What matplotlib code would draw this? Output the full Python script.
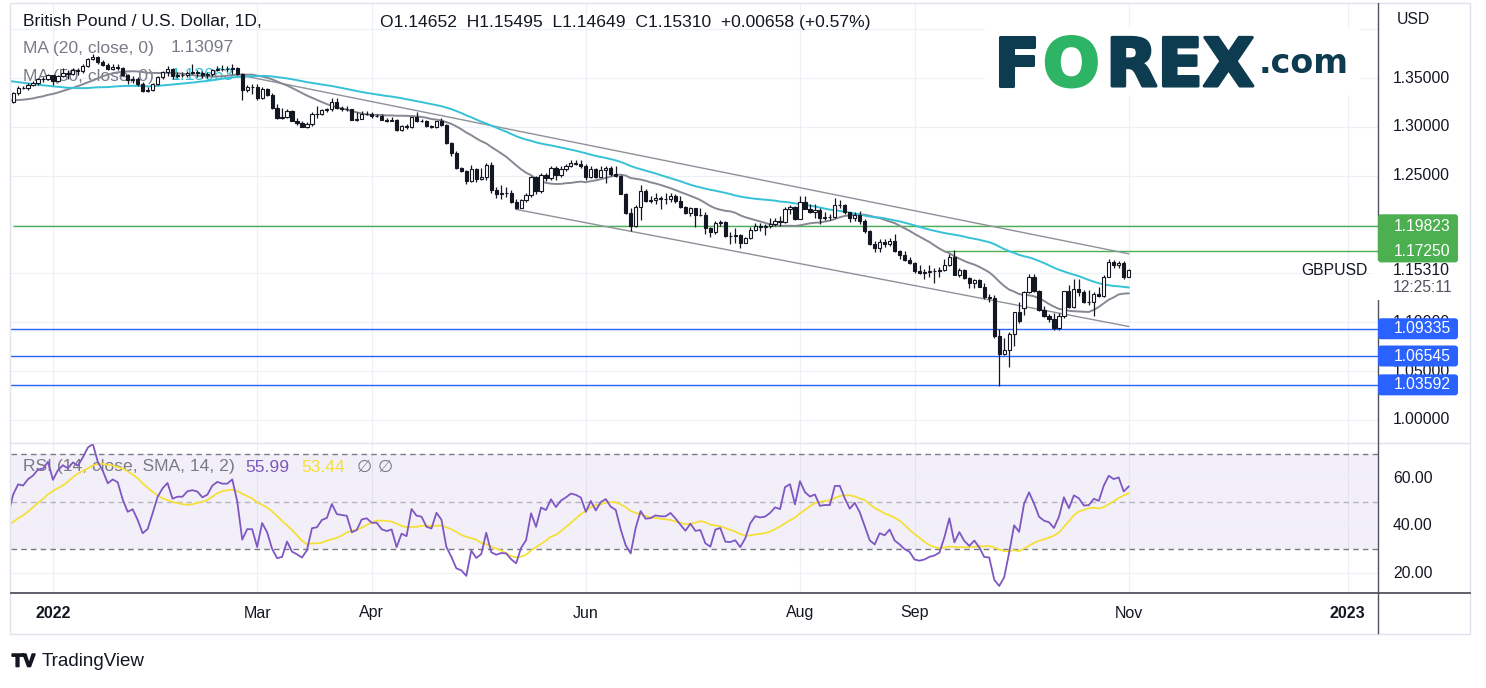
import numpy as np
import pandas as pd
import matplotlib
matplotlib.use("Agg")
import matplotlib.pyplot as plt
import matplotlib.transforms as mtrans
import matplotlib.patheffects as pe
from matplotlib.patches import FancyBboxPatch, Rectangle
from matplotlib.lines import Line2D

plt.rcParams['font.family'] = ['Liberation Sans', 'DejaVu Sans']

# ---------------- data ----------------
origin_date = '2022-01-03'
first_date = '2021-12-22'
last_date = '2022-11-01'
warmup_start = '2021-10-01'
warmup_end = '2021-12-21'

warmup_close = [
    1.3540, 1.3610, 1.3615, 1.3590, 1.3610, 1.3615, 1.3595, 1.3620, 1.3675, 1.3710,
    1.3745, 1.3735, 1.3815, 1.3810, 1.3795, 1.3760, 1.3770, 1.3760, 1.3745, 1.3835,
    1.3680, 1.3675, 1.3610, 1.3660, 1.3495, 1.3500, 1.3550, 1.3555, 1.3395, 1.3415,
    1.3410, 1.3425, 1.3425, 1.3490, 1.3510, 1.3445, 1.3395, 1.3350, 1.3325, 1.3330,
    1.3335, 1.3310, 1.3300, 1.3250, 1.3300, 1.3235, 1.3275, 1.3245, 1.3215, 1.3225,
    1.3270, 1.3235, 1.3240, 1.3290, 1.3325, 1.3235, 1.3215, 1.3255]

opens = [
    # Dec
    1.3255, 1.3345, 1.3400, 1.3395, 1.3430, 1.3450, 1.3485, 1.3490,
    # Jan
    1.3530, 1.3470, 1.3525, 1.3555, 1.3545, 1.3580, 1.3570, 1.3620, 1.3690, 1.3720,
    1.3665, 1.3635, 1.3590, 1.3610, 1.3600, 1.3535, 1.3480, 1.3490, 1.3440, 1.3365, 1.3380,
    # Feb
    1.3440, 1.3515, 1.3560, 1.3590, 1.3520, 1.3530, 1.3530, 1.3555, 1.3560, 1.3555,
    1.3535, 1.3545, 1.3580, 1.3595, 1.3590, 1.3590, 1.3605, 1.3545, 1.3375, 1.3410,
    # Mar
    1.3410, 1.3300, 1.3390, 1.3330, 1.3195, 1.3095, 1.3100, 1.3165, 1.3065, 1.3035,
    1.3000, 1.3030, 1.3130, 1.3135, 1.3170, 1.3180, 1.3250, 1.3190, 1.3185, 1.3180,
    1.3075, 1.3085, 1.3130,
    # Apr
    1.3135, 1.3110, 1.3110, 1.3075, 1.3065, 1.3070, 1.2965, 1.3010, 1.2995, 1.3100,
    1.3065, 1.3060, 1.3005, 1.2995, 1.3055, 1.3020, 1.2830, 1.2730, 1.2575, 1.2545, 1.2450,
    # May
    1.2570, 1.2470, 1.2490, 1.2610, 1.2355, 1.2315, 1.2325, 1.2320, 1.2235, 1.2170,
    1.2255, 1.2300, 1.2485, 1.2340, 1.2505, 1.2480, 1.2580, 1.2505, 1.2565, 1.2595,
    1.2630, 1.2620,
    # Jun
    1.2600, 1.2485, 1.2570, 1.2490, 1.2555, 1.2580, 1.2520, 1.2495, 1.2315, 1.2115,
    1.1985, 1.2180, 1.2340, 1.2245, 1.2250, 1.2275, 1.2265, 1.2265, 1.2290, 1.2240,
    1.2180, 1.2120,
    # Jul
    1.2165, 1.2095, 1.2100, 1.1960, 1.1920, 1.2020, 1.2030, 1.1885, 1.1880, 1.1890,
    1.1815, 1.1860, 1.1945, 1.1990, 1.1980, 1.1985, 1.2005, 1.2035, 1.2025, 1.2155, 1.2175,
    # Aug
    1.2060, 1.2230, 1.2160, 1.2130, 1.2145, 1.2070, 1.2075, 1.2075, 1.2200, 1.2200,
    1.2130, 1.2065, 1.2100, 1.2040, 1.1935, 1.1805, 1.1760, 1.1820, 1.1800, 1.1830,
    1.1730, 1.1690, 1.1640,
    # Sep
    1.1610, 1.1520, 1.1505, 1.1510, 1.1520, 1.1525, 1.1535, 1.1590, 1.1670, 1.1485,
    1.1535, 1.1455, 1.1405, 1.1430, 1.1365, 1.1255, 1.1250, 1.0860, 1.0670, 1.0720,
    1.0880, 1.1105,
    # Oct
    1.1150, 1.1310, 1.1465, 1.1320, 1.1125, 1.1060, 1.1035, 1.0945, 1.1065, 1.1315,
    1.1160, 1.1345, 1.1305, 1.1205, 1.1210, 1.1290, 1.1265, 1.1465, 1.1620, 1.1585, 1.1610,
    # Nov
    1.14652]

highs = [
    1.3360, 1.3420, 1.3415, 1.3445, 1.3465, 1.3500, 1.3510, 1.3545,
    1.3535, 1.3535, 1.3600, 1.3580, 1.3600, 1.3605, 1.3640, 1.3700, 1.3750, 1.3730,
    1.3680, 1.3655, 1.3640, 1.3640, 1.3610, 1.3545, 1.3520, 1.3510, 1.3460, 1.3405, 1.3450,
    1.3525, 1.3570, 1.3625, 1.3600, 1.3560, 1.3560, 1.3575, 1.3645, 1.3585, 1.3575,
    1.3560, 1.3590, 1.3625, 1.3630, 1.3625, 1.3645, 1.3615, 1.3550, 1.3430, 1.3440,
    1.3435, 1.3410, 1.3400, 1.3345, 1.3235, 1.3190, 1.3185, 1.3175, 1.3095, 1.3055,
    1.3045, 1.3150, 1.3215, 1.3185, 1.3195, 1.3295, 1.3300, 1.3215, 1.3215, 1.3185,
    1.3155, 1.3160, 1.3165,
    1.3150, 1.3130, 1.3135, 1.3090, 1.3100, 1.3080, 1.3015, 1.3030, 1.3105, 1.3150,
    1.3085, 1.3070, 1.3020, 1.3065, 1.3090, 1.3030, 1.2845, 1.2750, 1.2590, 1.2560, 1.2610,
    1.2580, 1.2580, 1.2635, 1.2640, 1.2380, 1.2405, 1.2380, 1.2355, 1.2265, 1.2265,
    1.2325, 1.2500, 1.2500, 1.2525, 1.2525, 1.2600, 1.2600, 1.2595, 1.2620, 1.2665,
    1.2665, 1.2665,
    1.2615, 1.2600, 1.2580, 1.2600, 1.2600, 1.2600, 1.2595, 1.2505, 1.2320, 1.2170,
    1.2205, 1.2405, 1.2360, 1.2290, 1.2320, 1.2290, 1.2325, 1.2325, 1.2310, 1.2290,
    1.2195, 1.2180,
    1.2170, 1.2165, 1.2125, 1.1975, 1.2040, 1.2050, 1.2035, 1.1925, 1.1960, 1.1900,
    1.1875, 1.1975, 1.2015, 1.2015, 1.2005, 1.2065, 1.2065, 1.2085, 1.2180, 1.2200, 1.2190,
    1.2295, 1.2295, 1.2215, 1.2210, 1.2165, 1.2130, 1.2105, 1.2275, 1.2250, 1.2210,
    1.2130, 1.2125, 1.2140, 1.2060, 1.1945, 1.1835, 1.1850, 1.1855, 1.1860, 1.1900,
    1.1740, 1.1730, 1.1670,
    1.1615, 1.1590, 1.1550, 1.1590, 1.1555, 1.1565, 1.1650, 1.1700, 1.1740, 1.1560,
    1.1545, 1.1465, 1.1440, 1.1445, 1.1405, 1.1285, 1.1275, 1.0930, 1.0840, 1.0900,
    1.1110, 1.1210,
    1.1325, 1.1495, 1.1495, 1.1330, 1.1170, 1.1080, 1.1095, 1.1090, 1.1325, 1.1380,
    1.1440, 1.1440, 1.1335, 1.1335, 1.1305, 1.1365, 1.1485, 1.1645, 1.1640, 1.1630, 1.1625,
    1.15495]

lows = [
    1.3245, 1.3330, 1.3385, 1.3380, 1.3420, 1.3430, 1.3460, 1.3480,
    1.3430, 1.3460, 1.3510, 1.3490, 1.3530, 1.3530, 1.3555, 1.3615, 1.3680, 1.3640,
    1.3620, 1.3580, 1.3580, 1.3585, 1.3520, 1.3435, 1.3445, 1.3420, 1.3360, 1.3355, 1.3370,
    1.3430, 1.3490, 1.3525, 1.3485, 1.3505, 1.3510, 1.3515, 1.3545, 1.3515, 1.3500,
    1.3500, 1.3525, 1.3570, 1.3570, 1.3560, 1.3545, 1.3530, 1.3275, 1.3355, 1.3335,
    1.3275, 1.3290, 1.3320, 1.3185, 1.3085, 1.3085, 1.3095, 1.3055, 1.3020, 1.2995,
    1.2985, 1.3010, 1.3090, 1.3125, 1.3150, 1.3165, 1.3185, 1.3165, 1.3160, 1.3070,
    1.3060, 1.3080, 1.3120,
    1.3095, 1.3100, 1.3070, 1.3050, 1.3055, 1.2960, 1.2960, 1.2975, 1.2985, 1.3045,
    1.3045, 1.3000, 1.2990, 1.2990, 1.3010, 1.2825, 1.2705, 1.2570, 1.2540, 1.2410, 1.2440,
    1.2440, 1.2460, 1.2455, 1.2325, 1.2275, 1.2265, 1.2285, 1.2225, 1.2155, 1.2165,
    1.2230, 1.2285, 1.2315, 1.2325, 1.2445, 1.2460, 1.2460, 1.2485, 1.2550, 1.2585,
    1.2605, 1.2580,
    1.2460, 1.2475, 1.2475, 1.2485, 1.2430, 1.2500, 1.2485, 1.2310, 1.2105, 1.1935,
    1.1980, 1.2045, 1.2230, 1.2220, 1.2210, 1.2160, 1.2215, 1.2230, 1.2225, 1.2165,
    1.2105, 1.2090,
    1.1975, 1.2090, 1.1900, 1.1875, 1.1905, 1.1990, 1.1875, 1.1805, 1.1815, 1.1760,
    1.1810, 1.1855, 1.1930, 1.1930, 1.1890, 1.1965, 1.1990, 1.1990, 1.2015, 1.2110, 1.2045,
    1.2055, 1.2155, 1.2120, 1.2065, 1.2005, 1.2045, 1.2045, 1.2070, 1.2170, 1.2110,
    1.2030, 1.2040, 1.2010, 1.1915, 1.1795, 1.1720, 1.1715, 1.1775, 1.1780, 1.1720,
    1.1650, 1.1630, 1.1600,
    1.1500, 1.1495, 1.1445, 1.1460, 1.1405, 1.1460, 1.1525, 1.1575, 1.1480, 1.1465,
    1.1445, 1.1350, 1.1355, 1.1360, 1.1240, 1.1210, 1.0840, 1.0350, 1.0660, 1.0540,
    1.0760, 1.0990,
    1.1075, 1.1300, 1.1310, 1.1115, 1.1055, 1.1000, 1.0925, 1.0925, 1.1040, 1.1150,
    1.1150, 1.1270, 1.1200, 1.1180, 1.1065, 1.1255, 1.1260, 1.1460, 1.1555, 1.1560, 1.1445,
    1.14649]

closes = [
    1.3345, 1.3400, 1.3395, 1.3430, 1.3450, 1.3485, 1.3490, 1.3530,
    1.3470, 1.3525, 1.3555, 1.3545, 1.3580, 1.3570, 1.3620, 1.3690, 1.3720, 1.3665,
    1.3635, 1.3590, 1.3610, 1.3600, 1.3535, 1.3480, 1.3490, 1.3440, 1.3365, 1.3380, 1.3440,
    1.3515, 1.3560, 1.3590, 1.3520, 1.3530, 1.3530, 1.3555, 1.3560, 1.3555, 1.3535,
    1.3545, 1.3580, 1.3595, 1.3590, 1.3590, 1.3605, 1.3545, 1.3375, 1.3410, 1.3410,
    1.3300, 1.3390, 1.3330, 1.3195, 1.3095, 1.3100, 1.3165, 1.3065, 1.3035, 1.3000,
    1.3030, 1.3130, 1.3135, 1.3170, 1.3180, 1.3250, 1.3190, 1.3185, 1.3180, 1.3075,
    1.3085, 1.3130, 1.3135,
    1.3110, 1.3110, 1.3075, 1.3065, 1.3070, 1.2965, 1.3010, 1.2995, 1.3100, 1.3065,
    1.3060, 1.3005, 1.2995, 1.3055, 1.3020, 1.2830, 1.2730, 1.2575, 1.2545, 1.2450, 1.2570,
    1.2470, 1.2490, 1.2610, 1.2355, 1.2315, 1.2325, 1.2320, 1.2235, 1.2170, 1.2255,
    1.2300, 1.2485, 1.2340, 1.2505, 1.2480, 1.2580, 1.2505, 1.2565, 1.2595, 1.2630,
    1.2620, 1.2600,
    1.2485, 1.2570, 1.2490, 1.2555, 1.2580, 1.2520, 1.2495, 1.2315, 1.2115, 1.1985,
    1.2180, 1.2340, 1.2245, 1.2250, 1.2275, 1.2265, 1.2265, 1.2290, 1.2240, 1.2180,
    1.2120, 1.2165,
    1.2095, 1.2100, 1.1960, 1.1920, 1.2020, 1.2030, 1.1885, 1.1880, 1.1890, 1.1815,
    1.1860, 1.1945, 1.1990, 1.1980, 1.1985, 1.2005, 1.2035, 1.2025, 1.2155, 1.2175, 1.2060,
    1.2230, 1.2160, 1.2130, 1.2145, 1.2070, 1.2075, 1.2075, 1.2200, 1.2200, 1.2130,
    1.2065, 1.2100, 1.2040, 1.1935, 1.1805, 1.1760, 1.1820, 1.1800, 1.1830, 1.1730,
    1.1690, 1.1640, 1.1610,
    1.1520, 1.1505, 1.1510, 1.1520, 1.1525, 1.1535, 1.1590, 1.1670, 1.1485, 1.1535,
    1.1455, 1.1405, 1.1430, 1.1365, 1.1255, 1.1250, 1.0860, 1.0670, 1.0720, 1.0880,
    1.1105, 1.1010,
    1.1310, 1.1465, 1.1320, 1.1125, 1.1060, 1.1035, 1.0945, 1.1065, 1.1315, 1.1160,
    1.1345, 1.1305, 1.1205, 1.1210, 1.1290, 1.1265, 1.1465, 1.1620, 1.1585, 1.1610, 1.1465,
    1.15310]

tick_dates = ['2022-01-03', '2022-03-01', '2022-04-01', '2022-06-01',
              '2022-08-01', '2022-09-01', '2022-11-01', '2023-01-02']
tick_labels = ['2022', 'Mar', 'Apr', 'Jun', 'Aug', 'Sep', 'Nov', '2023']

upper_trend_dates = ['2022-02-24', '2022-11-01']
upper_trend_prices = [1.3525, 1.1701]
lower_trend_dates = ['2022-05-12', '2022-11-01']
lower_trend_prices = [1.2155, 1.0957]

green_levels = [1.19823, 1.17250]
green_level_starts = [first_date, '2022-09-09']
blue_levels = [1.09335, 1.06545, 1.03592]

price_ticks = [1.35, 1.30, 1.25, 1.10, 1.05, 1.00]
price_grid = [1.40, 1.35, 1.30, 1.25, 1.20, 1.15, 1.10, 1.05, 1.00]
rsi_ticks = [60, 40, 20]

legend_ma20 = '1.13097'
legend_ma50 = '1.13663'
legend_rsi = '55.99'
legend_rsi_ma = '53.44'
last_price = '1.15310'
countdown = '12:25:11'

# ---------------- derived series ----------------
origin = np.datetime64(origin_date)
vis_dates = pd.bdate_range(first_date, last_date)
warm_dates = pd.bdate_range(warmup_start, warmup_end)


def to_pos(d):
    return np.busday_count(origin, np.asarray(d, dtype='datetime64[D]'))


x = to_pos(vis_dates.values.astype('datetime64[D]'))
xw = to_pos(warm_dates.values.astype('datetime64[D]'))
x_all = np.concatenate([xw, x])

o = np.array(opens); h = np.array(highs); l = np.array(lows); c = np.array(closes)
full = pd.Series(warmup_close + closes)
ma20 = full.rolling(20).mean().values
ma50 = full.rolling(50).mean().values
d = full.diff()
gain = d.clip(lower=0).ewm(alpha=1 / 14, adjust=False).mean()
loss = (-d.clip(upper=0)).ewm(alpha=1 / 14, adjust=False).mean()
rsi = (100 - 100 / (1 + gain / loss))
rsi_ma = rsi.rolling(14).mean()

# ---------------- figure ----------------
W, H = 1486, 688
fig = plt.figure(figsize=(W / 100, H / 100), dpi=100)
fig.patch.set_facecolor('white')
px = mtrans.Affine2D().scale(1, -1).translate(0, H)  # top-origin pixel coords

TEXT = '#131722'
GRAY = '#787B86'
GRID = '#EDF0F6'
L, R = 11, 1378
ax = fig.add_axes([L / W, 1 - 443 / H, (R - L) / W, (443 - 3) / H])
rx = fig.add_axes([L / W, 1 - 593 / H, (R - L) / W, (593 - 443) / H])
bar_px = 4.98
x0 = x[0] - 0.43
for a in (ax, rx):
    a.set_xlim(x0, x0 + (R - L) / bar_px)
    a.set_facecolor('white')
    for s in a.spines.values():
        s.set_visible(False)
    a.tick_params(left=False, right=False, labelleft=False, bottom=False)
ax.tick_params(labelbottom=False)
ax.set_ylim(0.97641, 1.42677)
rx.set_ylim(11.6, 74.76)

tick_pos = to_pos(tick_dates)
for t in tick_pos:
    ax.axvline(t, color=GRID, lw=0.9, zorder=0)
    rx.axvline(t, color=GRID, lw=0.9, zorder=0)
for p in price_grid:
    ax.axhline(p, color=GRID, lw=0.9, zorder=0)

# horizontal levels
for lev, st in zip(green_levels, green_level_starts):
    xs = max(to_pos(st), x0)
    ax.hlines(lev, xs, x0 + (R - L) / bar_px, color='#4CAF50', lw=1.0, zorder=2)
for lev in blue_levels:
    ax.axhline(lev, color='#2962FF', lw=1.0, zorder=2)

# trend channel
ax.plot(to_pos(upper_trend_dates), upper_trend_prices, color='#8E9199', lw=1.0, zorder=2)
ax.plot(to_pos(lower_trend_dates), lower_trend_prices, color='#8E9199', lw=1.0, zorder=2)

# moving averages
ax.plot(x_all, ma20, color='#868993', lw=1.4, zorder=2.5)
ax.plot(x_all, ma50, color='#35C2D7', lw=1.4, zorder=2.5)

# candles
up = c >= o
lo_b = np.minimum(o, c)
hb = np.abs(c - o)
ax.vlines(x, l, h, color=TEXT, lw=0.9, zorder=3)
ax.bar(x[up], hb[up], bottom=lo_b[up], width=0.64, facecolor='white',
       edgecolor=TEXT, linewidth=0.8, zorder=4)
ax.bar(x[~up], hb[~up], bottom=lo_b[~up], width=0.64, facecolor=TEXT,
       edgecolor=TEXT, linewidth=0.8, zorder=4)

# RSI panel
rx.axhspan(30, 70, color='#7E57C2', alpha=0.09, lw=0, zorder=0)
for v in rsi_ticks:
    rx.axhline(v, color=GRID, lw=0.9, zorder=0.5)
rx.axhline(70, color=GRAY, lw=1.0, ls=(0, (4, 3)), zorder=1)
rx.axhline(30, color=GRAY, lw=1.0, ls=(0, (4, 3)), zorder=1)
rx.axhline(50, color=GRAY, lw=1.0, ls=(0, (4, 3)), alpha=0.5, zorder=1)
rx.plot(x_all, rsi_ma.values, color='#F5E03A', lw=1.3, zorder=2)
rx.plot(x_all, rsi.values, color='#7E57C2', lw=1.3, zorder=3)

rx.set_xticks(tick_pos)
rx.set_xticklabels(tick_labels)
rx.tick_params(axis='x', length=0, pad=9, labelsize=11.5, labelcolor=TEXT)
for lab in rx.get_xticklabels():
    if lab.get_text().isdigit():
        lab.set_fontweight('bold')

# ---------------- frame / separators ----------------
fig.add_artist(Rectangle((10, 3), 1460, 631, transform=px, fill=False,
                         ec='#E0E3EB', lw=1.0, zorder=1))
fig.add_artist(Line2D([10, 1470], [443, 443], transform=px, color='#E0E3EB', lw=1.0, zorder=1))
fig.add_artist(Line2D([11, 1470], [593, 593], transform=px, color='#50535E', lw=1.3, zorder=2))
fig.add_artist(Line2D([1378, 1378], [3, 633], transform=px, color='#50535E', lw=1.0, zorder=2))

# ---------------- price axis labels ----------------
tr_main = mtrans.blended_transform_factory(fig.transFigure, ax.transData)
tr_rsi = mtrans.blended_transform_factory(fig.transFigure, rx.transData)
lx = 1393 / W
for p in price_ticks:
    fig.text(lx, p, f'{p:.5f}', transform=tr_main, va='center', ha='left',
             fontsize=11.3, color=TEXT, zorder=3)
for v in rsi_ticks:
    fig.text(lx, v, f'{v:.2f}', transform=tr_rsi, va='center', ha='left',
             fontsize=11.3, color=TEXT, zorder=3)
fig.text(1397, 20, 'USD', transform=px, va='center', ha='left', fontsize=11.3, color=TEXT)


def py(p):
    return H - ax.transData.transform((0, p))[1]


def level_box(y0, y1, color):
    fig.add_artist(FancyBboxPatch((1378, y0), 80, y1 - y0, transform=px,
                                  boxstyle='round,pad=0,rounding_size=3',
                                  fc=color, ec='none', zorder=4))


gy = [py(v) for v in green_levels]
level_box(gy[0] - 12, gy[1] + 11, '#4CAF50')
for v, yy in zip(green_levels, gy):
    fig.text(1394, yy, f'{v:.5f}', transform=px, va='center', ha='left',
             fontsize=11.3, color='white', zorder=5)
for v in blue_levels:
    yy = py(v)
    level_box(yy - 10.5, yy + 10.5, '#2962FF')
    fig.text(1394, yy, f'{v:.5f}', transform=px, va='center', ha='left',
             fontsize=11.3, color='white', zorder=5)

# last price label
ly = py(c[-1])
fig.add_artist(Rectangle((1372, ly - 10), 90, 40, transform=px, fc='white', ec='none', zorder=3))
fig.text(1393, ly, last_price, transform=px, va='center', ha='left', fontsize=11.3,
         color=TEXT, zorder=5)
fig.text(1393, ly + 17, countdown, transform=px, va='center', ha='left', fontsize=11.3,
         color='#50535E', zorder=5)
ax.text(1368, ly, 'GBPUSD', transform=px, va='center', ha='right', fontsize=11.3,
        color=TEXT, zorder=6)

# ---------------- legends ----------------
LF = 12.6
ax.text(23, 22, 'British Pound / U.S. Dollar, 1D,', transform=px, va='center',
        ha='left', fontsize=LF, color=TEXT, zorder=1)
ax.text(380, 22, 'O1.14652  H1.15495  L1.14649  C1.15310  +0.00658 (+0.57%)',
        transform=px, va='center', ha='left', fontsize=LF, color=TEXT, zorder=1)
ax.text(23, 48, 'MA (20, close, 0)', transform=px, va='center', ha='left',
        fontsize=LF, color=GRAY, zorder=1)
ax.text(171, 48, legend_ma20, transform=px, va='center', ha='left',
        fontsize=LF, color=GRAY, zorder=1)
ax.text(23, 76, 'MA (50, close, 0)', transform=px, va='center', ha='left',
        fontsize=LF, color=GRAY, zorder=1)
ax.text(171, 76, legend_ma50, transform=px, va='center', ha='left',
        fontsize=LF, color='#35C2D7', zorder=1)
rx.text(23, 467, 'RSI (14, close, SMA, 14, 2)', transform=px, va='center', ha='left',
        fontsize=LF, color=GRAY, zorder=1)
rx.text(245, 467, legend_rsi, transform=px, va='center', ha='left',
        fontsize=LF, color='#7E57C2', zorder=1)
rx.text(301, 467, legend_rsi_ma, transform=px, va='center', ha='left',
        fontsize=LF, color='#F5E03A', zorder=1)
rx.text(357, 467, '\u2205', transform=px, va='center', ha='left',
        fontsize=LF, color=GRAY, zorder=1)
rx.text(378, 467, '\u2205', transform=px, va='center', ha='left',
        fontsize=LF, color=GRAY, zorder=1)

# ---------------- FOREX.com logo ----------------
fig.add_artist(Rectangle((985, 28), 375, 67, transform=px, fc='white', ec='none', zorder=1))
NAVY = '#0D3B4F'
GREEN = '#2DB464'
thick_navy = [pe.withStroke(linewidth=2.2, foreground=NAVY)]
thick_green = [pe.withStroke(linewidth=2.2, foreground=GREEN)]
fig.text(994, 86, 'F', transform=px, va='baseline', ha='left', fontsize=48,
         fontweight='bold', family='DejaVu Sans', color=NAVY, zorder=3,
         path_effects=thick_navy)
fig.text(1043, 86, 'O', transform=px, va='baseline', ha='left', fontsize=48,
         fontweight='bold', family='DejaVu Sans', color=GREEN, zorder=3,
         path_effects=thick_green)
fig.text(1106, 86, 'REX', transform=px, va='baseline', ha='left', fontsize=48,
         fontweight='bold', family='DejaVu Sans', color=NAVY, zorder=3,
         path_effects=thick_navy)
fig.text(1259, 73, '.com', transform=px, va='baseline', ha='left', fontsize=24,
         fontweight='bold', family='DejaVu Sans', color=NAVY, zorder=3)

# ---------------- TradingView mark ----------------
fig.text(12, 662, 'TV', transform=px, va='center', ha='left', fontsize=13,
         fontweight='bold', color=TEXT, path_effects=[pe.withStroke(linewidth=1.2, foreground=TEXT)])
fig.text(42, 662, 'TradingView', transform=px, va='center', ha='left', fontsize=13.5,
         color=TEXT)

fig.savefig('out.png', dpi=100, facecolor='white')
